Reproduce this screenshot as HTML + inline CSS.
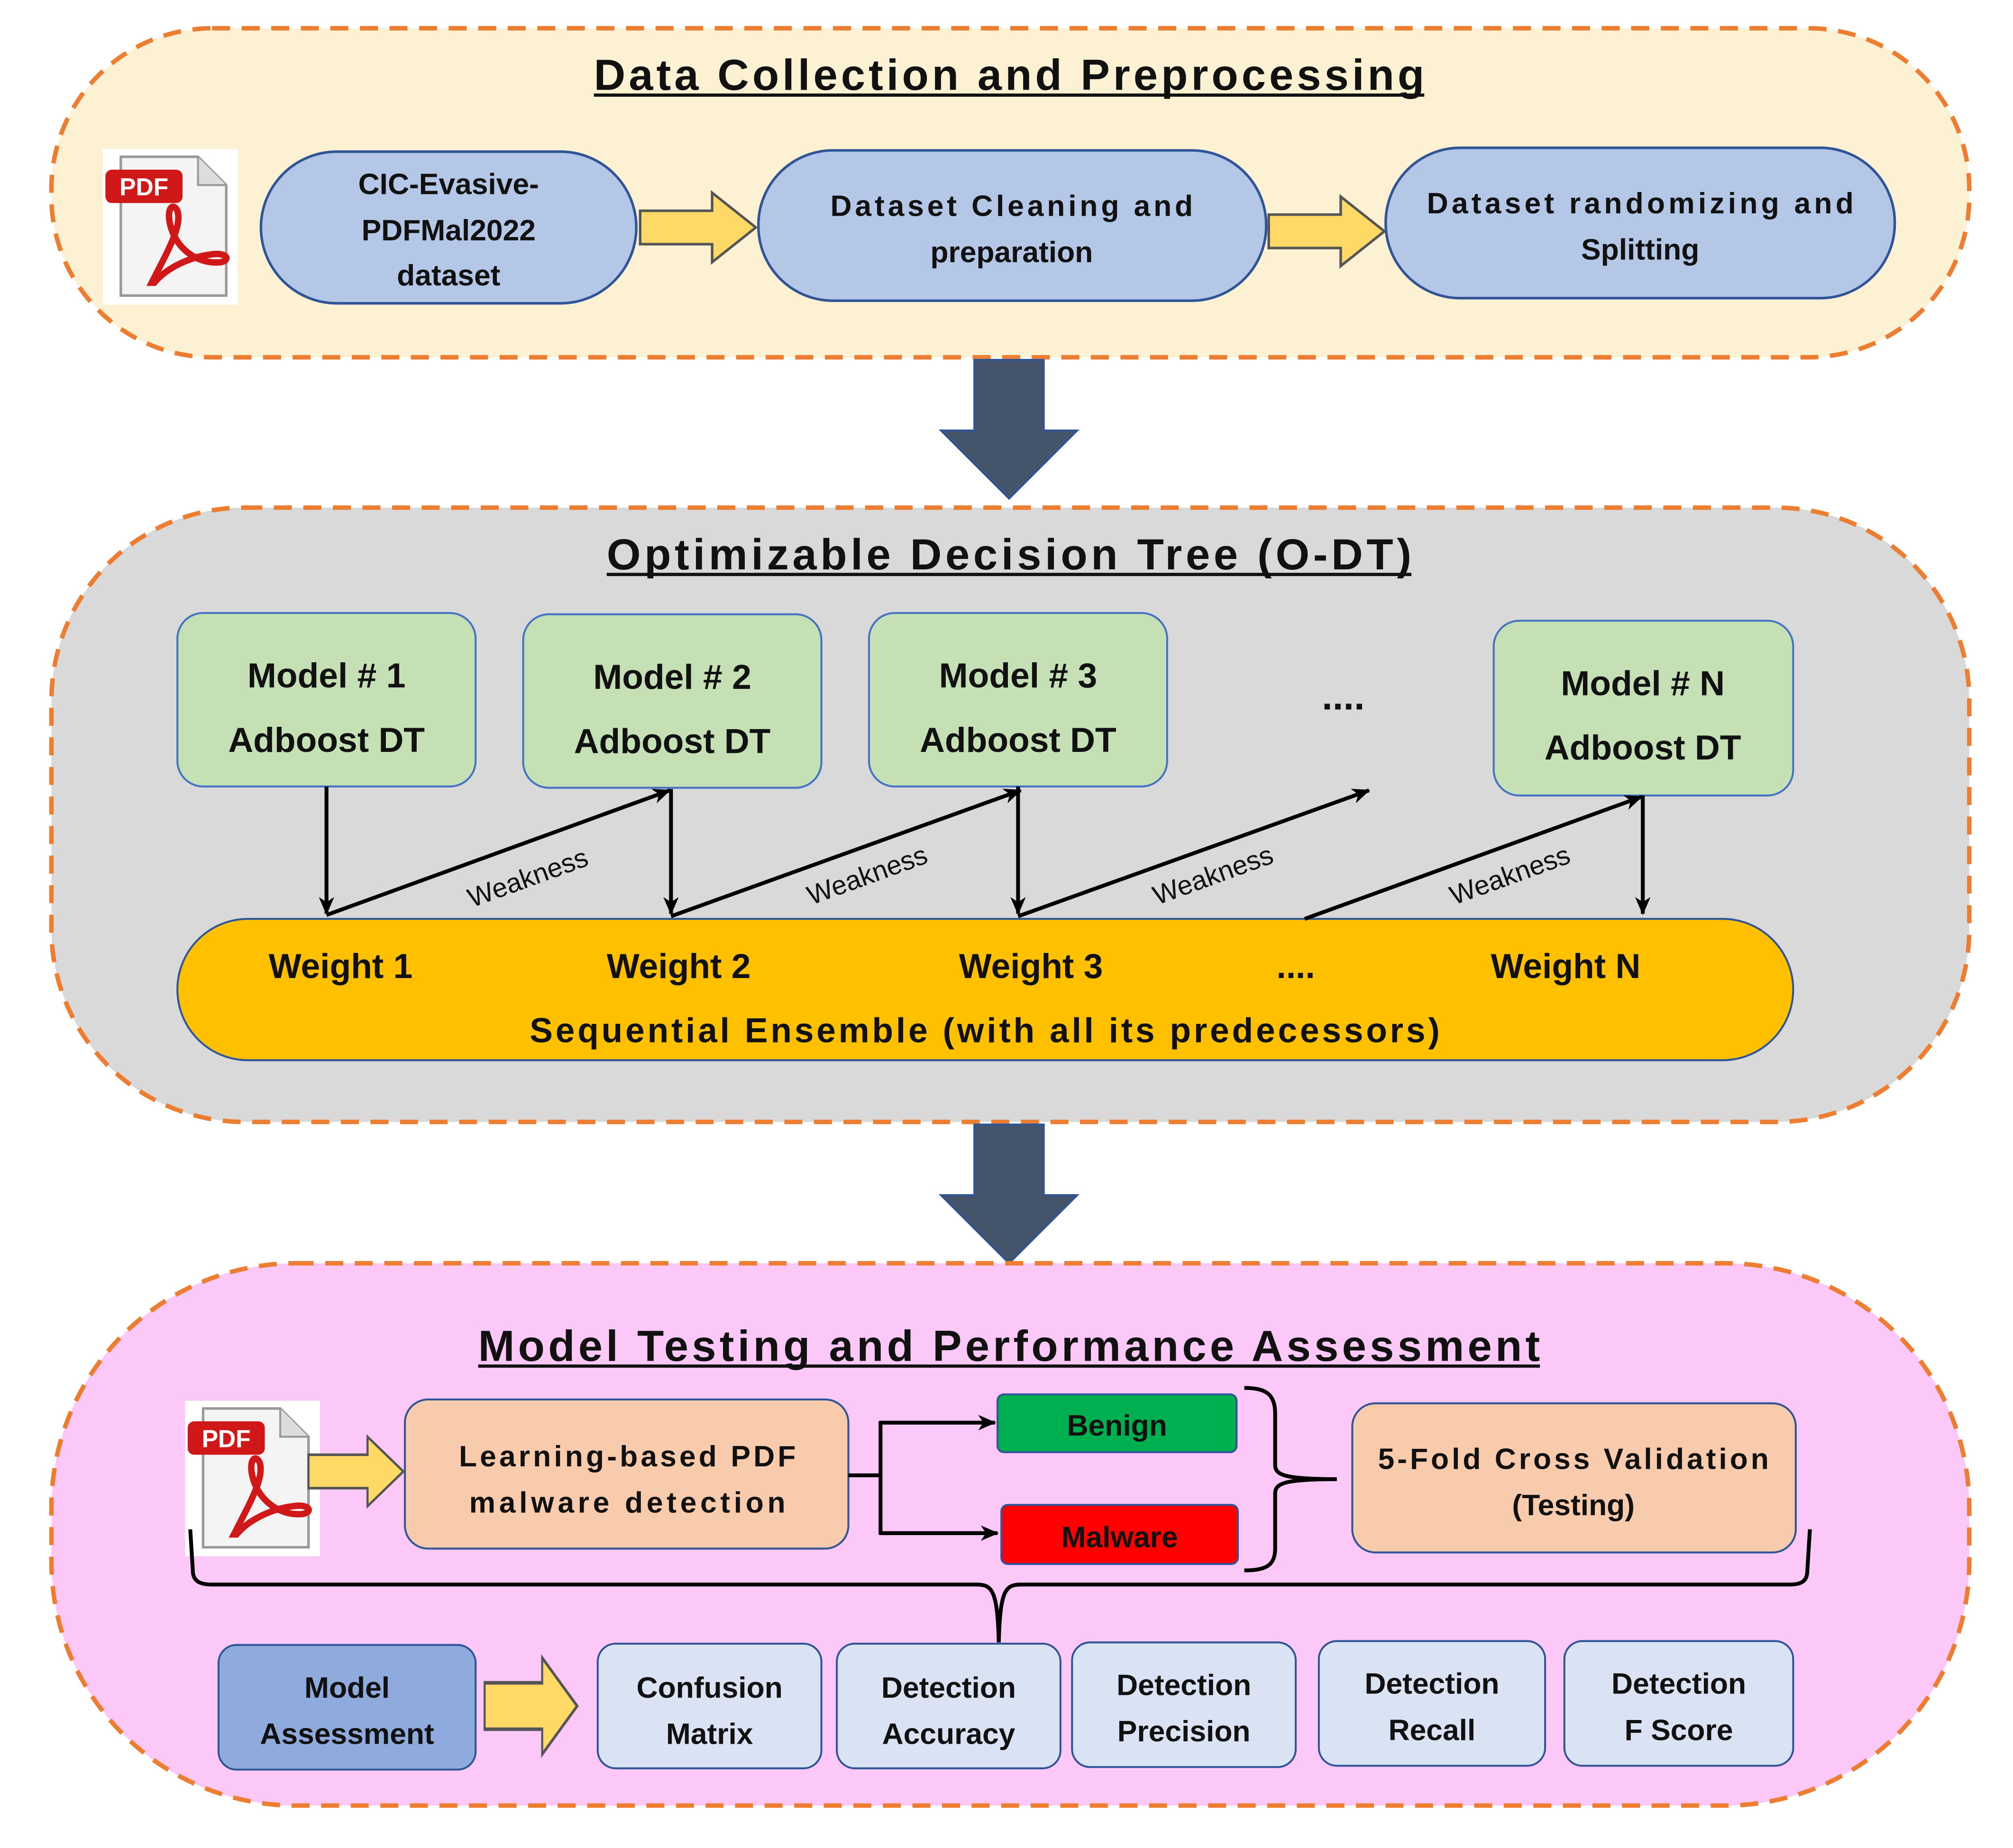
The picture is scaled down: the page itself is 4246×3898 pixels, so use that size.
<!DOCTYPE html>
<html><head><meta charset="utf-8"><style>
html,body{margin:0;padding:0;background:#fff}
svg{display:block}
text{font-family:"Liberation Sans",sans-serif;font-weight:bold;fill:#111}
</style></head><body>
<svg width="4246" height="3898" viewBox="0 0 1566 1438" preserveAspectRatio="none" xmlns="http://www.w3.org/2000/svg">
<defs>
<marker id="ah2" markerWidth="14" markerHeight="12" refX="13" refY="6" orient="auto" markerUnits="userSpaceOnUse"><path d="M0,0 L14,6 L0,12 L4,6 Z" fill="#000"/></marker>
<g id="pdf">
<rect x="0" y="0" width="105" height="121" fill="#fff"/>
<path d="M14,6 L74,6 L96,28 L96,114 L14,114 Z" fill="#f4f4f4" stroke="#999" stroke-width="2"/>
<path d="M74,6 L74,28 L96,28" fill="#ddd" stroke="#999" stroke-width="1.5"/>
<rect x="2" y="16" width="60" height="26" rx="5" fill="#d01818"/>
<text x="32" y="36" text-anchor="middle" font-size="19" style="fill:#fff">PDF</text>
<path d="M38,104 C50,80 62,60 58,48 C54,40 48,48 54,64 C60,80 76,90 92,88 C100,86 96,80 84,82 C68,84 50,92 40,104 Z" fill="none" stroke="#d01818" stroke-width="5"/>
</g>
<g id="yarrow"><path d="M0,14 L56,14 L56,0 L90,27 L56,54 L56,40 L0,40 Z" fill="#ffd966" stroke="#555" stroke-width="2"/></g>
<g id="darrow"><path d="M758,0 L812,0 L812,55 L838,55 L785,108 L732,55 L758,55 Z" fill="#44546a" stroke="#2f5597" stroke-width="1.5"/></g>
</defs>

<!-- Panel 1 -->
<rect x="40" y="22" width="1492" height="256" rx="125" fill="#fdf1d3" stroke="#ed7d31" stroke-width="3.5" stroke-dasharray="14,9"/>
<text x="462" y="70" font-size="34" textLength="646" lengthAdjust="spacing">Data Collection and Preprocessing</text>
<line x1="462" y1="74" x2="1108" y2="74" stroke="#111" stroke-width="2.5"/>
<use href="#pdf" x="80" y="116"/>
<rect x="203" y="118" width="292" height="118" rx="59" fill="#b4c7e7" stroke="#2f5597" stroke-width="2"/>
<text x="349" y="151" text-anchor="middle" font-size="23">CIC-Evasive-</text>
<text x="349" y="187" text-anchor="middle" font-size="23">PDFMal2022</text>
<text x="349" y="222" text-anchor="middle" font-size="23">dataset</text>
<use href="#yarrow" x="498" y="150"/>
<rect x="590" y="117" width="395" height="117" rx="58" fill="#b4c7e7" stroke="#2f5597" stroke-width="2"/>
<text x="787" y="168" text-anchor="middle" font-size="23" textLength="282" lengthAdjust="spacing">Dataset Cleaning and</text>
<text x="787" y="204" text-anchor="middle" font-size="23">preparation</text>
<use href="#yarrow" x="987" y="153"/>
<rect x="1078" y="115" width="396" height="117" rx="58" fill="#b4c7e7" stroke="#2f5597" stroke-width="2"/>
<text x="1276" y="166" text-anchor="middle" font-size="23" textLength="332" lengthAdjust="spacing">Dataset randomizing and</text>
<text x="1276" y="202" text-anchor="middle" font-size="23">Splitting</text>

<use href="#darrow" y="280"/>

<!-- Panel 2 -->
<rect x="40" y="395" width="1492" height="478" rx="150" fill="#d9d9d9" stroke="#ed7d31" stroke-width="3.5" stroke-dasharray="14,9"/>
<text x="472" y="443" font-size="34" textLength="626" lengthAdjust="spacing">Optimizable Decision Tree (O-DT)</text>
<line x1="472" y1="447" x2="1098" y2="447" stroke="#111" stroke-width="2.5"/>

<rect x="138" y="477" width="232" height="135" rx="20" fill="#c5e0b4" stroke="#4472c4" stroke-width="1.5"/>
<text x="254" y="535" text-anchor="middle" font-size="27">Model # 1</text>
<text x="254" y="585" text-anchor="middle" font-size="27">Adboost DT</text>
<rect x="407" y="478" width="232" height="135" rx="20" fill="#c5e0b4" stroke="#4472c4" stroke-width="1.5"/>
<text x="523" y="536" text-anchor="middle" font-size="27">Model # 2</text>
<text x="523" y="586" text-anchor="middle" font-size="27">Adboost DT</text>
<rect x="676" y="477" width="232" height="135" rx="20" fill="#c5e0b4" stroke="#4472c4" stroke-width="1.5"/>
<text x="792" y="535" text-anchor="middle" font-size="27">Model # 3</text>
<text x="792" y="585" text-anchor="middle" font-size="27">Adboost DT</text>
<text x="1045" y="552" text-anchor="middle" font-size="30">....</text>
<rect x="1162" y="483" width="233" height="136" rx="20" fill="#c5e0b4" stroke="#4472c4" stroke-width="1.5"/>
<text x="1278" y="541" text-anchor="middle" font-size="27">Model # N</text>
<text x="1278" y="591" text-anchor="middle" font-size="27">Adboost DT</text>

<rect x="138" y="715" width="1257" height="110" rx="55" fill="#ffc000" stroke="#2f5597" stroke-width="1.5"/>
<text x="265" y="761" text-anchor="middle" font-size="27">Weight 1</text>
<text x="528" y="761" text-anchor="middle" font-size="27">Weight 2</text>
<text x="802" y="761" text-anchor="middle" font-size="27">Weight 3</text>
<text x="1008" y="761" text-anchor="middle" font-size="27">....</text>
<text x="1218" y="761" text-anchor="middle" font-size="27">Weight N</text>
<text x="766" y="811" text-anchor="middle" font-size="27" textLength="708" lengthAdjust="spacing">Sequential Ensemble (with all its predecessors)</text>

<g stroke="#000" stroke-width="3" fill="none">
<line x1="254" y1="612" x2="254" y2="711" marker-end="url(#ah2)"/>
<line x1="254" y1="712" x2="521" y2="615" marker-end="url(#ah2)"/>
<line x1="522" y1="614" x2="522" y2="711" marker-end="url(#ah2)"/>
<line x1="522" y1="713" x2="794" y2="615" marker-end="url(#ah2)"/>
<line x1="792" y1="612" x2="792" y2="711" marker-end="url(#ah2)"/>
<line x1="792" y1="713" x2="1065" y2="615" marker-end="url(#ah2)"/>
<line x1="1015" y1="715" x2="1277" y2="620" marker-end="url(#ah2)"/>
<line x1="1278" y1="619" x2="1278" y2="711" marker-end="url(#ah2)"/>
</g>
<text x="411" y="690" text-anchor="middle" font-size="21" transform="rotate(-20 411 684)" style="font-weight:normal">Weakness</text>
<text x="675" y="688" text-anchor="middle" font-size="21" transform="rotate(-20 675 682)" style="font-weight:normal">Weakness</text>
<text x="944" y="688" text-anchor="middle" font-size="21" transform="rotate(-20 944 682)" style="font-weight:normal">Weakness</text>
<text x="1175" y="688" text-anchor="middle" font-size="21" transform="rotate(-20 1175 682)" style="font-weight:normal">Weakness</text>

<use href="#darrow" y="875"/>

<!-- Panel 3 -->
<rect x="40" y="983" width="1492" height="422" rx="190" fill="#fcc8f8" stroke="#ed7d31" stroke-width="3.5" stroke-dasharray="14,9"/>
<text x="372" y="1059" font-size="34" textLength="826" lengthAdjust="spacing">Model Testing and Performance Assessment</text>
<line x1="372" y1="1063" x2="1198" y2="1063" stroke="#111" stroke-width="2.5"/>

<use href="#pdf" x="144" y="1090"/>
<g transform="translate(240,1118) scale(0.82,1)"><use href="#yarrow"/></g>
<rect x="315" y="1089" width="345" height="116" rx="18" fill="#f8cbad" stroke="#2f5597" stroke-width="1.5"/>
<text x="488" y="1141" text-anchor="middle" font-size="23" textLength="262" lengthAdjust="spacing">Learning-based PDF</text>
<text x="488" y="1177" text-anchor="middle" font-size="23" textLength="246" lengthAdjust="spacing">malware detection</text>
<g stroke="#000" stroke-width="3" fill="none">
<polyline points="660,1148 685,1148"/>
<line x1="685" y1="1106" x2="685" y2="1194"/>
<line x1="684" y1="1107" x2="774" y2="1107" marker-end="url(#ah2)"/>
<line x1="684" y1="1193" x2="776" y2="1193" marker-end="url(#ah2)"/>
<path d="M968,1080 C985,1080 992,1085 992,1100 L992,1140 C992,1148 1000,1151 1040,1151 C1000,1151 992,1154 992,1162 L992,1205 C992,1218 985,1222 968,1222"/>
<path d="M148,1190 L150,1222 C150,1230 155,1233 165,1233 L760,1233 C772,1233 776,1238 777,1278 C778,1238 782,1233 794,1233 L1392,1233 C1402,1233 1406,1230 1406,1222 L1408,1190"/>
</g>
<rect x="776" y="1085" width="186" height="45" rx="5" fill="#00b050" stroke="#2f5597" stroke-width="1.5"/>
<text x="869" y="1117" text-anchor="middle" font-size="23">Benign</text>
<rect x="779" y="1171" width="184" height="46" rx="5" fill="#ff0000" stroke="#2f5597" stroke-width="1.5"/>
<text x="871" y="1204" text-anchor="middle" font-size="23">Malware</text>
<rect x="1052" y="1092" width="345" height="116" rx="18" fill="#f8cbad" stroke="#2f5597" stroke-width="1.5"/>
<text x="1224" y="1143" text-anchor="middle" font-size="23" textLength="304" lengthAdjust="spacing">5-Fold Cross Validation</text>
<text x="1224" y="1179" text-anchor="middle" font-size="23">(Testing)</text>

<rect x="170" y="1280" width="200" height="97" rx="14" fill="#8faadc" stroke="#2f5597" stroke-width="1.5"/>
<text x="270" y="1321" text-anchor="middle" font-size="23">Model</text>
<text x="270" y="1357" text-anchor="middle" font-size="23">Assessment</text>
<g transform="translate(377,1290) scale(0.8,1.39)"><use href="#yarrow"/></g>
<g font-size="23" text-anchor="middle">
<rect x="465" y="1279" width="174" height="97" rx="14" fill="#dae3f3" stroke="#2f5597" stroke-width="1.5"/>
<text x="552" y="1321">Confusion</text><text x="552" y="1357">Matrix</text>
<rect x="651" y="1279" width="174" height="97" rx="14" fill="#dae3f3" stroke="#2f5597" stroke-width="1.5"/>
<text x="738" y="1321">Detection</text><text x="738" y="1357">Accuracy</text>
<rect x="834" y="1278" width="174" height="97" rx="14" fill="#dae3f3" stroke="#2f5597" stroke-width="1.5"/>
<text x="921" y="1319">Detection</text><text x="921" y="1355">Precision</text>
<rect x="1026" y="1277" width="176" height="97" rx="14" fill="#dae3f3" stroke="#2f5597" stroke-width="1.5"/>
<text x="1114" y="1318">Detection</text><text x="1114" y="1354">Recall</text>
<rect x="1217" y="1277" width="178" height="97" rx="14" fill="#dae3f3" stroke="#2f5597" stroke-width="1.5"/>
<text x="1306" y="1318">Detection</text><text x="1306" y="1354">F Score</text>
</g>
</svg>
</body></html>
